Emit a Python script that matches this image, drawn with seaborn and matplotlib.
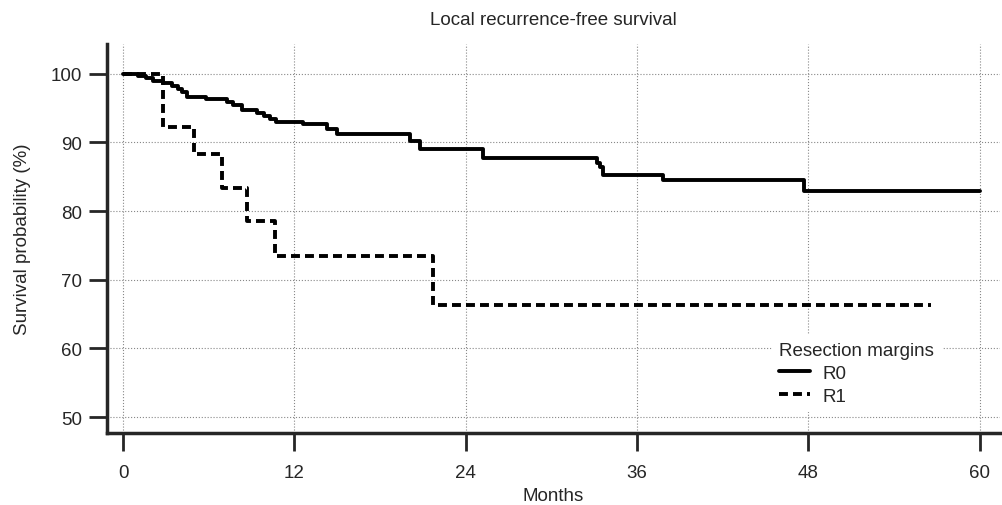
import pandas as pd
import matplotlib
matplotlib.use('Agg')
import matplotlib.pyplot as plt
import seaborn as sns

# Kaplan-Meier step values
r0_months = [0, 1.05, 1.6, 2.1, 2.8, 3.4, 3.85, 4.1, 4.5, 5.8, 7.3, 7.7, 8.3, 9.4, 9.9,
             10.3, 10.7, 12.6, 14.3, 15.0, 20.1, 20.8, 25.2, 33.2, 33.4, 33.6, 37.8, 47.7, 60]
r0_surv = [100, 99.7, 99.4, 98.9, 98.6, 98.2, 97.8, 97.3, 96.6, 96.3, 95.9, 95.4, 94.7, 94.3, 93.9,
           93.4, 93.0, 92.7, 92.0, 91.3, 90.2, 89.0, 87.7, 87.0, 86.4, 85.3, 84.5, 82.9, 82.9]

r1_months = [0, 2.8, 5.0, 6.9, 8.7, 10.65, 21.7, 56.6]
r1_surv = [100, 92.3, 88.3, 83.3, 78.5, 73.5, 66.3, 66.3]

x_ticks = [0, 12, 24, 36, 48, 60]
y_ticks = [50, 60, 70, 80, 90, 100]


def main():
    sns.set_style('ticks')
    plt.rcParams['font.family'] = ['Liberation Sans', 'DejaVu Sans']
    fs = 13.5

    # long form table so seaborn can split the groups by style
    df = pd.concat([
        pd.DataFrame({'Months': r0_months, 'Survival': r0_surv, 'Margin': 'R0'}),
        pd.DataFrame({'Months': r1_months, 'Survival': r1_surv, 'Margin': 'R1'}),
    ], ignore_index=True)

    fig = plt.figure(figsize=(10.03, 5.06), dpi=100)
    ax = fig.add_axes([0.1067, 0.1423, 0.89, 0.769])

    sns.lineplot(data=df, x='Months', y='Survival', style='Margin', estimator=None,
                 dashes={'R0': '', 'R1': (2.3, 1.3)}, color='black', linewidth=2.8,
                 drawstyle='steps-post', ax=ax)

    ax.set_xlim(-1.12, 61.4)
    ax.set_ylim(47.67, 104.37)
    ax.set_xticks(x_ticks)
    ax.set_yticks(y_ticks)
    ax.grid(True, color='#888888', linestyle=':', linewidth=0.8)
    ax.set_axisbelow(True)

    sns.despine(ax=ax)
    for side in ['left', 'bottom']:
        ax.spines[side].set_linewidth(2.5)
    ax.tick_params(direction='out', length=13, width=2, labelsize=fs, pad=5)
    ax.tick_params(axis='x', pad=9)

    ax.set_xlabel('Months', fontsize=fs, labelpad=5)
    ax.set_ylabel('Survival probability (%)', fontsize=fs, labelpad=14)
    ax.set_title('Local recurrence-free survival', fontsize=fs, pad=14)

    leg = ax.legend(title='Resection margins', loc='upper left', bbox_to_anchor=(0.760, 0.355),
                    bbox_transform=fig.transFigure, fontsize=fs, title_fontsize=fs,
                    frameon=True, facecolor='white', edgecolor='none', framealpha=1,
                    handlelength=1.65, handletextpad=0.65, labelspacing=0.3, borderpad=0.4,
                    alignment='left', fancybox=False)
    leg.set_zorder(5)

    fig.savefig('out.png', dpi=100)


if __name__ == "__main__":
    main()
